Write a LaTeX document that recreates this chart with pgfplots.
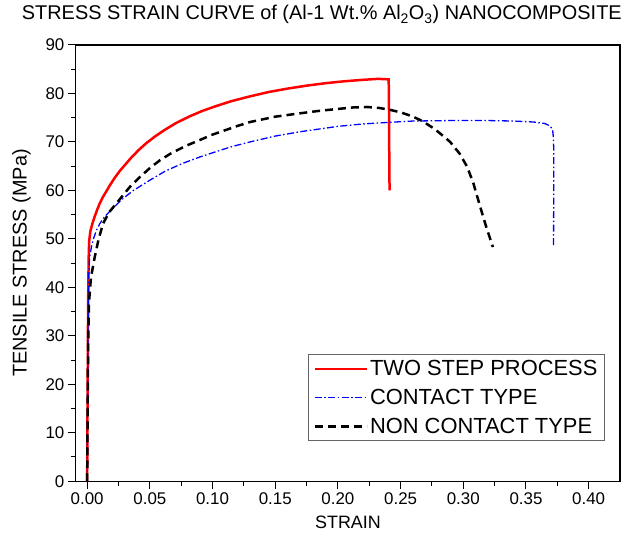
\documentclass[border=0pt]{standalone}
\usepackage{fontspec}
\setmainfont{Liberation Sans}
\usepackage{pgfplots}
\pgfplotsset{compat=1.18}

\begin{document}
\begin{tikzpicture}
\begin{axis}[
    scale only axis,
    width=545bp, height=437bp,
    xmin=-0.009, xmax=0.425,
    ymin=0, ymax=90,
    xtick={0,0.05,0.10,0.15,0.20,0.25,0.30,0.35,0.40},
    ytick={0,10,20,30,40,50,60,70,80,90},
    minor x tick num=1, minor y tick num=1,
    tick pos=left, tick align=outside,
    major tick length=8bp, minor tick length=5bp,
    every tick/.style={black, line width=1bp},
    axis line style={line width=1.2bp},
    scaled x ticks=false,
    xticklabel style={/pgf/number format/fixed, /pgf/number format/fixed zerofill,
        /pgf/number format/precision=2},
    /pgf/number format/assume math mode=true,
    tick label style={font=\fontsize{17}{20}\selectfont},
    title={STRESS STRAIN CURVE of (Al-1 Wt.\% Al\textsubscript{2}O\textsubscript{3}) NANOCOMPOSITE},
    title style={font=\fontsize{20}{24}\selectfont, at={(axis description cs:0.452,1)},
        anchor=base, yshift=19bp, overlay},
    xlabel={STRAIN},
    xlabel style={font=\fontsize{18}{22}\selectfont, at={(axis description cs:0.5,0)},
        anchor=center, yshift=-41bp},
    ylabel={TENSILE STRESS (MPa)},
    ylabel style={font=\fontsize{20}{24}\selectfont, at={(axis description cs:-0.100,0.5)},
        anchor=center},
    legend style={at={(axis description cs:0.972,0.092)}, anchor=south east,
        font=\fontsize{22}{26}\selectfont, draw=black!60, line width=0.8bp,
        row sep=8bp, inner xsep=5bp, inner ysep=4bp},
    legend cell align=left,
    legend image code/.code={\draw[#1] (0bp,0bp) -- (52bp,0bp);},
]
% two step process
\addplot[red, line width=2.5bp] coordinates {
    (0,0) (0.0003,15) (0.0006,30) (0.0009,40) (0.0012,46) (0.0016,49.5)
    (0.0025,51.5) (0.004,53) (0.006,54.6) (0.008,56) (0.010,57.3)
    (0.0125,58.6) (0.0153,59.8) (0.018,61) (0.022,62.6) (0.026,64)
    (0.030,65.2) (0.035,66.7) (0.041,68.3) (0.047,69.7) (0.054,71.1)
    (0.062,72.5) (0.071,73.9) (0.082,75.3) (0.092,76.4) (0.103,77.4)
    (0.115,78.4) (0.130,79.4) (0.145,80.3) (0.160,81) (0.175,81.6)
    (0.190,82.1) (0.205,82.5) (0.220,82.8) (0.232,83) (0.2405,82.9)
    (0.2408,75) (0.2410,65) (0.2412,60)
};
\addlegendentry{TWO STEP PROCESS}
% contact type
\addplot[blue, line width=1.3bp, dash pattern=on 7bp off 2.5bp on 1.5bp off 2.5bp] coordinates {
    (0,0) (0.0003,15) (0.0006,30) (0.001,40) (0.0015,44) (0.002,46.2)
    (0.0035,48.5) (0.005,50) (0.0075,51.8) (0.010,53.1) (0.014,54.6)
    (0.019,55.9) (0.028,58.2) (0.037,60) (0.050,62.1) (0.0625,64)
    (0.0765,65.6) (0.090,66.9) (0.103,68) (0.115,69) (0.130,70)
    (0.150,71.2) (0.170,72.1) (0.200,73.2) (0.220,73.7) (0.239,74)
    (0.260,74.3) (0.2895,74.4) (0.320,74.4) (0.340,74.3) (0.356,74.1)
    (0.365,73.8) (0.369,73.3) (0.3712,72.6) (0.3718,71) (0.3722,68)
    (0.3721,60) (0.3720,48.7)
};
\addlegendentry{CONTACT TYPE}
% non contact type
\addplot[black, line width=2.5bp, dash pattern=on 8bp off 5bp] coordinates {
    (0,0) (0.0004,15) (0.0008,28) (0.0015,37) (0.003,42) (0.006,46.2)
    (0.009,49.8) (0.0126,53.1) (0.0175,55.5) (0.0233,57.3) (0.034,60.7)
    (0.041,62.5) (0.050,64.6) (0.058,66.2) (0.066,67.5) (0.078,69.1)
    (0.090,70.4) (0.100,71.5) (0.110,72.4) (0.120,73.3) (0.130,74.1)
    (0.150,75.2) (0.170,75.9) (0.185,76.4) (0.200,76.8) (0.212,77.1)
    (0.223,77.2) (0.233,77) (0.2416,76.6) (0.250,76.1) (0.260,75.2)
    (0.268,74.2) (0.278,72.5) (0.2895,70) (0.297,67.6) (0.303,64.9)
    (0.308,61.5) (0.3135,56.6) (0.318,52.7) (0.3236,48.3)
};
\addlegendentry{NON CONTACT TYPE}
\end{axis}
\path (current axis.north) ++(0,45bp);
\path (current axis.south) ++(0,-53bp);
\path (current axis.west) ++(-76bp,0);
\path (current axis.east) ++(13bp,0);
\end{tikzpicture}
\end{document}
